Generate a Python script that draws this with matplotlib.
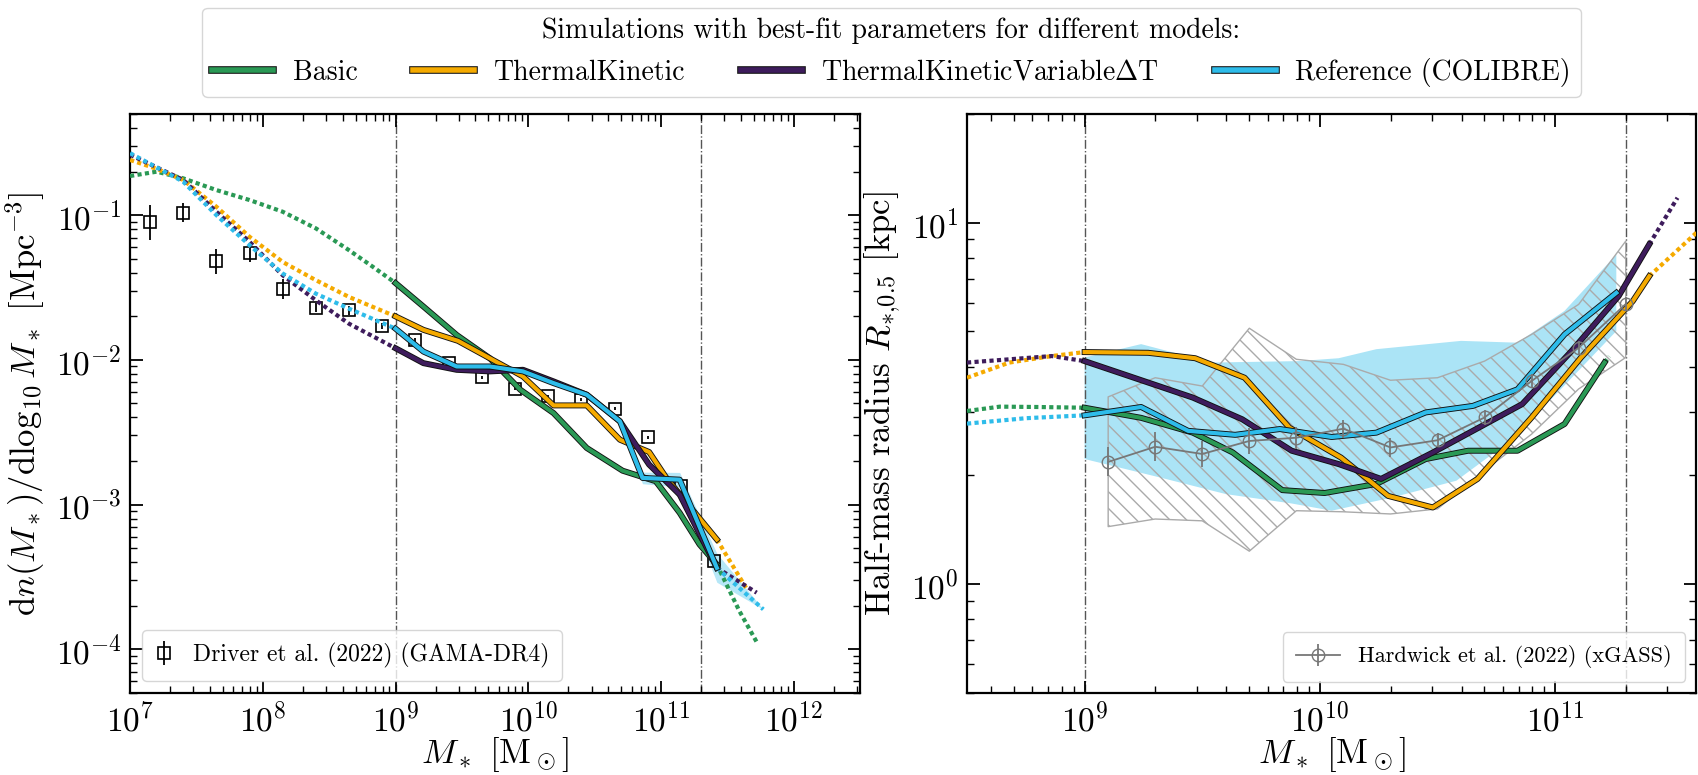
import numpy as np
import matplotlib.pyplot as plt
import matplotlib.patheffects as pe
from matplotlib.lines import Line2D
from matplotlib.ticker import LogLocator, NullFormatter

plt.rcParams['font.family'] = 'serif'
plt.rcParams['font.serif'] = ['cmr10']
plt.rcParams['mathtext.fontset'] = 'cm'
plt.rcParams['axes.formatter.use_mathtext'] = True

# model names and colours
models = ['Basic', 'ThermalKinetic', r'ThermalKineticVariable$\Delta$T', 'Reference (COLIBRE)']
colors = ['#2a9955', '#f5aa00', '#3e1c5c', '#2ebcea']

# --- stellar mass function, log10 M* and log10 phi; solid between limits ---
smf_basic_lgm = [7.0, 7.2, 7.4, 7.65, 7.9, 8.15, 8.4, 8.65, 8.83, 9.0, 9.21, 9.46, 9.71, 9.94,
                 10.19, 10.44, 10.71, 10.96, 11.14, 11.29, 11.42, 11.59, 11.73]
smf_basic_lgphi = [-0.730, -0.700, -0.746, -0.827, -0.896, -0.977, -1.092, -1.243, -1.358, -1.47,
                   -1.632, -1.828, -1.989, -2.207, -2.368, -2.609, -2.766, -2.839, -3.057, -3.276,
                   -3.414, -3.736, -3.966]
smf_tk_lgm = [7.0, 7.2, 7.4, 7.65, 7.9, 8.15, 8.4, 8.65, 9.0, 9.21, 9.47, 9.96, 10.19, 10.44,
              10.69, 10.91, 11.04, 11.42, 11.64]
smf_tk_lgphi = [-0.619, -0.680, -0.757, -0.942, -1.150, -1.324, -1.450, -1.566, -1.70, -1.793,
                -1.869, -2.115, -2.315, -2.315, -2.552, -2.637, -2.816, -3.241, -3.575]
smf_tkv_lgm = [7.0, 7.4, 7.65, 7.9, 8.15, 8.4, 8.65, 9.0, 9.21, 9.46, 9.71, 9.96, 10.19, 10.44,
               10.69, 10.91, 11.14, 11.42, 11.72]
smf_tkv_lgphi = [-0.583, -0.757, -0.977, -1.185, -1.416, -1.589, -1.751, -1.92, -2.023, -2.069,
                 -2.080, -2.069, -2.149, -2.241, -2.425, -2.724, -2.931, -3.437, -3.609]
smf_ref_lgm = [7.0, 7.4, 7.65, 7.9, 8.15, 8.4, 8.65, 9.0, 9.21, 9.46, 9.71, 9.96, 10.19, 10.44,
               10.69, 10.86, 11.14, 11.42, 11.77]
smf_ref_lgphi = [-0.572, -0.769, -1.0, -1.208, -1.404, -1.543, -1.647, -1.785, -1.943, -2.046,
                 -2.046, -2.080, -2.161, -2.241, -2.425, -2.816, -2.828, -3.437, -3.724]
smf_ref_err = [0.0, 0.0, 0.0, 0.0, 0.0, 0.0, 0.0, 0.0, 0.01, 0.01, 0.01, 0.01, 0.01, 0.015,
               0.02, 0.04, 0.05, 0.1, 0.0]
smf_solid = [(9.0, 11.42), (9.0, 11.42), (9.0, 11.42), (9.0, 11.42)]

# Driver et al. (2022) GAMA-DR4
driver_lgm = [7.15, 7.40, 7.65, 7.90, 8.15, 8.40, 8.65, 8.90, 9.15, 9.40, 9.65, 9.90,
              10.15, 10.40, 10.65, 10.90, 11.15, 11.40]
driver_lgphi = [-1.051, -0.984, -1.319, -1.259, -1.513, -1.640, -1.658, -1.767, -1.862, -2.023,
                -2.122, -2.200, -2.253, -2.276, -2.338, -2.536, -2.874, -3.391]
driver_err = [0.12, 0.065, 0.087, 0.063, 0.07, 0.03, 0.03, 0.02, 0.015, 0.01, 0.01, 0.01,
              0.01, 0.01, 0.01, 0.01, 0.01, 0.01]

# --- half-mass radius, log10 M* and log10 R ---
size_basic_lgm = [8.5, 8.64, 8.8, 9.0, 9.24, 9.46, 9.63, 9.84, 10.02, 10.24, 10.45, 10.63,
                  10.84, 11.04, 11.21, 11.23]
size_basic_lgr = [0.479, 0.491, 0.490, 0.488, 0.460, 0.419, 0.364, 0.260, 0.252, 0.277, 0.346,
                  0.369, 0.369, 0.443, 0.613, 0.630]
size_tk_lgm = [8.5, 8.68, 8.86, 9.0, 9.27, 9.47, 9.68, 9.87, 10.09, 10.29, 10.48, 10.67, 10.90,
               11.11, 11.33, 11.40, 11.60, 11.70]
size_tk_lgr = [0.571, 0.613, 0.631, 0.642, 0.640, 0.625, 0.571, 0.433, 0.350, 0.244, 0.212,
               0.291, 0.461, 0.627, 0.783, 0.852, 0.972, 1.03]
size_tkv_lgm = [8.5, 8.86, 9.0, 9.46, 9.67, 9.88, 10.08, 10.26, 10.48, 10.86, 11.07, 11.27,
                11.40, 11.52]
size_tkv_lgr = [0.613, 0.631, 0.617, 0.516, 0.456, 0.369, 0.332, 0.291, 0.364, 0.498, 0.645,
                0.797, 0.940, 1.069]
size_ref_lgm = [8.5, 8.75, 9.0, 9.24, 9.44, 9.64, 9.83, 10.05, 10.24, 10.45, 10.65, 10.84,
                11.04, 11.26]
size_ref_lgr = [0.444, 0.459, 0.467, 0.490, 0.424, 0.413, 0.429, 0.407, 0.419, 0.475, 0.493,
                0.539, 0.691, 0.806]
size_solid = [(9.0, 11.21), (9.0, 11.40), (9.0, 11.40), (9.0, 11.26)]

# scatter of the reference run
ref_band_up_lgm = [9.0, 9.24, 9.54, 9.91, 10.08, 10.24, 10.6, 10.84, 11.04, 11.26]
ref_band_up_lgr = [0.627, 0.664, 0.613, 0.617, 0.625, 0.650, 0.673, 0.668, 0.756, 0.912]
ref_band_lo_lgm = [9.0, 9.32, 9.6, 9.88, 10.05, 10.31, 10.58, 10.79, 10.99, 11.26]
ref_band_lo_lgr = [0.346, 0.295, 0.249, 0.223, 0.203, 0.240, 0.286, 0.387, 0.516, 0.700]

# Hardwick et al. (2022) xGASS
hardwick_lgm = [9.1, 9.3, 9.5, 9.7, 9.9, 10.1, 10.3, 10.5, 10.7, 10.9, 11.1, 11.3]
hardwick_lgr = [0.338, 0.380, 0.360, 0.396, 0.405, 0.430, 0.378, 0.398, 0.461, 0.562, 0.654, 0.775]
hardwick_err = [0.04, 0.04, 0.035, 0.035, 0.03, 0.025, 0.025, 0.02, 0.02, 0.02, 0.02, 0.02]
hardwick_up = [0.518, 0.571, 0.548, 0.708, 0.622, 0.608, 0.564, 0.571, 0.617, 0.691, 0.774, 0.949]
hardwick_lo = [0.159, 0.180, 0.175, 0.091, 0.203, 0.200, 0.194, 0.208, 0.314, 0.415, 0.540, 0.627]

LW = 3.0
outline = [pe.Stroke(linewidth=LW + 1.3, foreground='#111111'), pe.Normal()]
dots = (0, (1.0, 0.8))


def draw_model(ax, lgm, lgy, lims, color, z):
    lgm = np.asarray(lgm)
    m = 10.0 ** lgm
    y = 10.0 ** np.asarray(lgy)
    lo, hi = lims
    below = lgm <= lo
    above = lgm >= hi
    inside = (lgm >= lo) & (lgm <= hi)
    for sel in (below, above):
        if sel.sum() > 1:
            ax.plot(m[sel], y[sel], color=color, lw=LW, ls=dots, zorder=z)
    ax.plot(m[inside], y[inside], color=color, lw=LW, path_effects=outline,
            solid_joinstyle='round', zorder=z + 0.5)


def style_axis(ax):
    ax.set_xscale('log')
    ax.set_yscale('log')
    ax.tick_params(which='both', direction='in', top=True, right=True, labelsize=24)
    ax.tick_params(which='major', length=9, width=1.3, pad=6)
    ax.tick_params(which='minor', length=5, width=1.0)
    for axis in (ax.xaxis, ax.yaxis):
        axis.set_major_locator(LogLocator(base=10, numticks=30))
        axis.set_minor_locator(LogLocator(base=10, subs=np.arange(2, 10), numticks=300))
        axis.set_minor_formatter(NullFormatter())
    for s in ax.spines.values():
        s.set_linewidth(1.6)


fig = plt.figure(figsize=(16.98, 7.75), dpi=100)
ax1 = fig.add_axes([0.0766, 0.106, 0.430, 0.747])
ax2 = fig.add_axes([0.5695, 0.106, 0.4295, 0.747])

# left: stellar mass function
smf_lgm = [smf_basic_lgm, smf_tk_lgm, smf_tkv_lgm, smf_ref_lgm]
smf_lgphi = [smf_basic_lgphi, smf_tk_lgphi, smf_tkv_lgphi, smf_ref_lgphi]

lg = np.asarray(smf_ref_lgm)
ph = np.asarray(smf_ref_lgphi)
er = np.asarray(smf_ref_err)
sel = lg >= 10.6
ax1.fill_between(10 ** lg[sel], 10 ** (ph[sel] - er[sel]), 10 ** (ph[sel] + er[sel]),
                 color=colors[3], alpha=0.35, lw=0, zorder=2)

d_m = 10.0 ** np.asarray(driver_lgm)
d_phi = 10.0 ** np.asarray(driver_lgphi)
d_e = np.asarray(driver_err)
ax1.errorbar(d_m, d_phi, yerr=[d_phi * (1 - 10 ** -d_e), d_phi * (10 ** d_e - 1)],
             fmt='s', ms=8, mfc='none', mec='k', mew=1.2, ecolor='k', elinewidth=1.3,
             capsize=0, zorder=3, label='Driver et al. (2022) (GAMA-DR4)')

for i in range(4):
    draw_model(ax1, smf_lgm[i], smf_lgphi[i], smf_solid[i], colors[i], 4 + i)

for x in (1e9, 2e11):
    ax1.axvline(x, color='#555555', lw=1.0, ls='-.', zorder=1)

style_axis(ax1)
ax1.set_xlim(1e7, 10 ** 12.5)
ax1.set_ylim(5e-5, 0.5)
ax1.set_xlabel(r'$M_*$ [M$_\odot$]', fontsize=25, labelpad=-1)
ax1.set_ylabel(r'$\mathrm{d}n(M_*)/\mathrm{d}\log_{10}M_*$ [Mpc$^{-3}$]', fontsize=25, labelpad=6)
ax1.legend(loc='lower left', fontsize=17, handlelength=0.8, borderpad=0.55, frameon=True,
           fancybox=True, edgecolor='#cccccc')

# right: half-mass radius
size_lgm = [size_basic_lgm, size_tk_lgm, size_tkv_lgm, size_ref_lgm]
size_lgr = [size_basic_lgr, size_tk_lgr, size_tkv_lgr, size_ref_lgr]

band_x = np.r_[10.0 ** np.asarray(ref_band_up_lgm), 10.0 ** np.asarray(ref_band_lo_lgm)[::-1]]
band_y = np.r_[10.0 ** np.asarray(ref_band_up_lgr), 10.0 ** np.asarray(ref_band_lo_lgr)[::-1]]
ax2.fill(band_x, band_y, color=colors[3], alpha=0.4, lw=0, zorder=1)

h_m = 10.0 ** np.asarray(hardwick_lgm)
h_r = 10.0 ** np.asarray(hardwick_lgr)
h_e = np.asarray(hardwick_err)
ax2.fill_between(h_m, 10.0 ** np.asarray(hardwick_lo), 10.0 ** np.asarray(hardwick_up),
                 facecolor='none', edgecolor='#aaaaaa', hatch='\\\\', lw=1.0, zorder=2)

for i in range(4):
    draw_model(ax2, size_lgm[i], size_lgr[i], size_solid[i], colors[i], 4 + i)

ax2.errorbar(h_m, h_r, yerr=[h_r * (1 - 10 ** -h_e), h_r * (10 ** h_e - 1)],
             fmt='-o', ms=9, mfc='none', mec='#777777', color='#777777', lw=1.3,
             ecolor='#777777', elinewidth=1.3, capsize=0, zorder=9,
             label='Hardwick et al. (2022) (xGASS)')

for x in (1e9, 2e11):
    ax2.axvline(x, color='#555555', lw=1.0, ls='-.', zorder=1)

style_axis(ax2)
ax2.set_xlim(10 ** 8.5, 10 ** 11.6)
ax2.set_ylim(0.5, 20)
ax2.set_xlabel(r'$M_*$ [M$_\odot$]', fontsize=25, labelpad=-1)
ax2.set_ylabel(r'Half-mass radius $R_{*{,}0.5}$ [kpc]', fontsize=25, labelpad=6)
ax2.legend(loc='lower right', fontsize=16, handlelength=2.0, borderpad=0.6, frameon=True,
           fancybox=True, edgecolor='#cccccc')

# shared legend for the simulations
handles = [Line2D([], [], color=c, lw=4, path_effects=[pe.Stroke(linewidth=5.5, foreground='#111111'),
                                                      pe.Normal()]) for c in colors]
fig.legend(handles, models, loc='upper center', bbox_to_anchor=(0.525, 1.008), ncol=4,
           title='Simulations with best-fit parameters for different models:',
           fontsize=20, title_fontsize=20, handlelength=2.2, columnspacing=2.0,
           handletextpad=0.7, frameon=True, fancybox=True, edgecolor='#cccccc', borderpad=0.35)

fig.savefig('out.png', dpi=100)
